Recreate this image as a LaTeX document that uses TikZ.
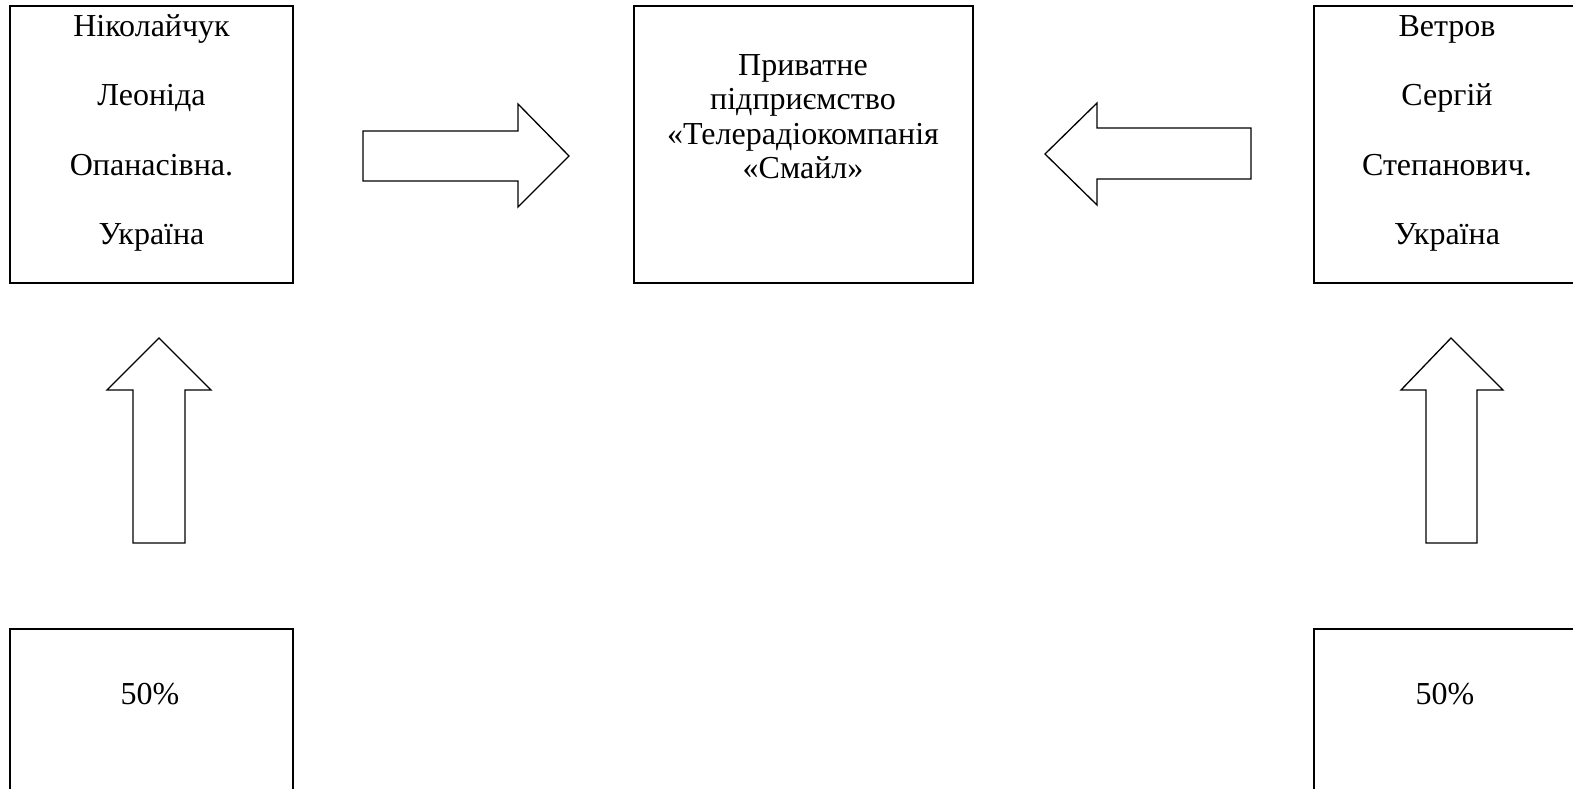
\documentclass[tikz,border=0pt]{standalone}
\usepackage{fontspec}
\setmainfont{Liberation Serif}
\begin{document}
\begin{tikzpicture}[x=1pt,y=-1pt,
  box/.style={draw, line width=2pt, inner sep=0pt, outer sep=0pt},
  txt/.style={font=\fontsize{32}{36}\selectfont, inner sep=0pt, anchor=base},
  blockarrow/.style={draw, line width=1.3pt, line join=miter, fill=white}]
\path[use as bounding box, clip] (0,0) rectangle (1573,789);
\fill[white] (0,0) rectangle (1573,789);
% boxes
\node[box, minimum width=283pt, minimum height=277pt] (nik) at (151.5,144.5) {};
\node[box, minimum width=339pt, minimum height=277pt] (pp) at (803,144.5) {};
\node[box, minimum width=266pt, minimum height=277pt] (vet) at (1447,144.5) {};
\node[box, minimum width=283pt, minimum height=200pt] (nikP) at (151.5,729) {};
\node[box, minimum width=266pt, minimum height=200pt] (vetP) at (1447,729) {};
% texts
\node[txt] (n1) at (151.5,37) {Ніколайчук};
\node[txt] (n2) at (151.5,106) {Леоніда};
\node[txt] (n3) at (151.5,175) {Опанасівна.};
\node[txt] (n4) at (151.5,244) {Україна};
\node[txt] (v1) at (1447,37) {Ветров};
\node[txt] (v2) at (1447,106) {Сергій};
\node[txt] (v3) at (1447,175) {Степанович.};
\node[txt] (v4) at (1447,244) {Україна};
\node[txt] (p1) at (803,76) {Приватне};
\node[txt] (p2) at (803,110) {підприємство};
\node[txt] (p3) at (803,144) {«Телерадіокомпанія};
\node[txt] (p4) at (803,178) {«Смайл»};
\node[txt] (np) at (150,704) {50\%};
\node[txt] (vp) at (1445,704) {50\%};
% block arrows
\draw[blockarrow] (363,131) -- (518,131) -- (518,104) -- (569,156) -- (518,207) -- (518,181) -- (363,181) -- cycle;
\draw[blockarrow] (1251,128) -- (1097,128) -- (1097,103) -- (1045,154) -- (1097,205) -- (1097,179) -- (1251,179) -- cycle;
\draw[blockarrow] (133,543) -- (133,390) -- (107,390) -- (159,338) -- (211,390) -- (185,390) -- (185,543) -- cycle;
\draw[blockarrow] (1426,543) -- (1426,390) -- (1401,390) -- (1451,338) -- (1503,390) -- (1477,390) -- (1477,543) -- cycle;
\end{tikzpicture}
\end{document}
